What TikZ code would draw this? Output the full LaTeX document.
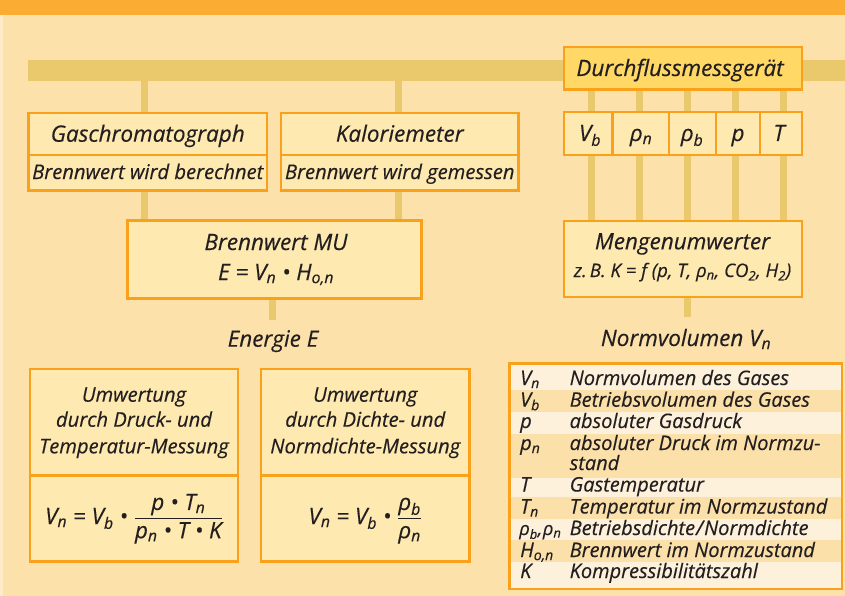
\documentclass[tikz,border=0pt]{standalone}
\usepackage{amsmath}
\usepackage{fontspec}
\setmainfont{Open Sans}[ItalicFeatures={FakeBold=0.35}]
\usetikzlibrary{backgrounds}
\definecolor{bg}{HTML}{FDE1AA}
\definecolor{topbar}{HTML}{FBAC33}
\definecolor{railc}{HTML}{E9C96B}
\definecolor{boxfill}{HTML}{FEE9B0}
\definecolor{dffill}{HTML}{FFD866}
\definecolor{borderc}{HTML}{F9A11B}
\definecolor{txt}{HTML}{231F20}
\definecolor{rowlight}{HTML}{FEF1DC}
\definecolor{rowdark}{HTML}{FCE0AA}
\definecolor{stripc}{HTML}{FEEBC8}
\newcommand\subx[1]{\textsubscript{#1}}
\newcommand\fsz[1]{\fontsize{#1}{#1}\selectfont\itshape}
\tikzset{
  box/.style={draw=borderc, line width=2.5pt, fill=boxfill, anchor=north west, inner sep=0pt, outer sep=0pt},
  conn/.style={draw=railc, line width=7pt},
  lbl/.style={text=txt, inner sep=0pt, anchor=base},
  lbll/.style={text=txt, inner sep=0pt, anchor=base west},
  big/.style={font=\fsz{22.5}},
  mid/.style={font=\fsz{20.2}},
  tab/.style={font=\fsz{20}},
}
\begin{document}
\begin{tikzpicture}[x=1pt,y=-1pt]
\useasboundingbox (0,0) rectangle (845,596);
\begin{scope}[on background layer]
\fill[bg] (0,0) rectangle (845,596);
\fill[stripc] (0,15) rectangle (3,596);
\fill[topbar] (0,0) rectangle (845,15);
\end{scope}
% rail
\node[fill=railc, anchor=north west, inner sep=0pt, minimum width=817pt, minimum height=21pt] (rail) at (28,60) {};
% upper boxes
\node[box, minimum width=238.5pt, minimum height=42pt] (gc) at (28.5,113) {};
\node[box, minimum width=238.5pt, minimum height=35.5pt] (gcs) at (28.5,155) {};
\node[box, minimum width=237.5pt, minimum height=42pt] (ka) at (281,113) {};
\node[box, minimum width=237.5pt, minimum height=35.5pt] (kas) at (281,155) {};
\node[box, minimum width=294pt, minimum height=78pt] (mu) at (127.5,220.5) {};
\node[box, fill=dffill, minimum width=238pt, minimum height=42.5pt] (df) at (564,47) {};
\node[box, minimum width=48.7pt, minimum height=43pt] (c1) at (564,112) {};
\node[box, minimum width=56.3pt, minimum height=43pt] (c2) at (612.7,112) {};
\node[box, minimum width=47pt, minimum height=43pt] (c3) at (669,112) {};
\node[box, minimum width=44pt, minimum height=43pt] (c4) at (716,112) {};
\node[box, minimum width=42pt, minimum height=43pt] (c5) at (760,112) {};
\node[box, minimum width=238pt, minimum height=76pt] (mw) at (564,221) {};
% lower boxes
\node[box, minimum width=208pt, minimum height=106.5pt] (ua) at (30,369.2) {};
\node[box, minimum width=208pt, minimum height=86pt] (uaf) at (30,475.7) {};
\node[box, minimum width=208.5pt, minimum height=106.5pt] (ub) at (261,369.2) {};
\node[box, minimum width=208.5pt, minimum height=86pt] (ubf) at (261,475.7) {};
% connectors
\coordinate (x1) at (144,0);
\coordinate (x2) at (398,0);
\coordinate (x3) at (272.5,0);
\coordinate (y5) at (591.7,0);
\coordinate (y6) at (639.3,0);
\coordinate (y7) at (687.7,0);
\coordinate (y8) at (735.5,0);
\coordinate (y9) at (783,0);
\coordinate (muend) at (272.5,320);
\coordinate (mwend) at (687.7,317);
\begin{scope}[on background layer]
\draw[conn] (rail.center -| x1) -- (mu.north -| x1);
\draw[conn] (rail.center -| x2) -- (mu.north -| x2);
\draw[conn] (mu.south -| x3) -- (muend);
\foreach \c in {y5,y6,y7,y8,y9}{\draw[conn] (df.center -| \c) -- (mw.north -| \c);}
\draw[conn] (mw.south -| y7) -- (mwend);
\end{scope}
% texts upper
\node[lbl, big] (tgc) at (147.75,141.7) {Gaschromatograph};
\node[lbl, mid] (tgcs) at (147.75,179) {Brennwert wird berechnet};
\node[lbl, big] (tka) at (399.75,141.7) {Kaloriemeter};
\node[lbl, mid] (tkas) at (399.75,179) {Brennwert wird gemessen};
\node[lbl, big] (tdf) at (680,76) {Durchflussmessgerät};
\node[lbl, big] (tc1) at (590,141) {V\subx{b}};
\node[lbl, big] (tc2) at (641,141) {ρ\subx{n}};
\node[lbl, big] (tc3) at (692,141) {ρ\subx{b}};
\node[lbl, big] (tc4) at (738,141) {p};
\node[lbl, big] (tc5) at (779,141) {T};
\node[lbl, big] (tmu1) at (276,250) {Brennwert MU};
\node[lbl, big] (tmu2) at (276,280) {E = V\subx{n} • H\subx{o,n}};
\node[lbl, big] (tmw1) at (682.5,249.3) {Mengenumwerter};
\node[lbl, font=\fsz{18.6}] (tmw2) at (682.5,277) {z.\,B. K = f (p, T, ρ\subx{n}, CO\subx{2}, H\subx{2})};
\node[lbl, big] (ten) at (273,346.7) {Energie E};
\node[lbl, big] (tnv) at (686,346) {Normvolumen V\subx{n}};
% lower box texts
\node[lbl, mid] (ua1) at (134,401.7) {Umwertung};
\node[lbl, mid] (ua2) at (134,426.7) {durch Druck- und};
\node[lbl, mid] (ua3) at (134,453.3) {Temperatur-Messung};
\node[lbl, mid] (ub1) at (365.25,401.7) {Umwertung};
\node[lbl, mid] (ub2) at (365.25,426.7) {durch Dichte- und};
\node[lbl, mid] (ub3) at (365.25,453.3) {Normdichte-Messung};
\node[lbl, big] (fa) at (134,524) {V\subx{n} = V\subx{b} • $\dfrac{\hbox{p • T\subx{n}}}{\hbox{p\subx{n} • T • K}}$};
\node[lbl, big] (fb) at (365.25,524) {V\subx{n} = V\subx{b} • $\dfrac{\hbox{ρ\subx{b}}}{\hbox{ρ\subx{n}}}$};
% table
\node[box, fill=rowlight, minimum width=332.5pt, minimum height=225.3pt] (tb) at (509.5,363.7) {};
\fill[rowdark] (511,390) rectangle (840.5,411.5);
\fill[rowdark] (511,434) rectangle (840.5,478);
\fill[rowdark] (511,497) rectangle (840.5,519);
\fill[rowdark] (511,540) rectangle (840.5,562);
\foreach \n/\y/\s/\d in {
  r1/385/{V\subx{n}}/{Normvolumen des Gases},
  r2/406.7/{V\subx{b}}/{Betriebsvolumen des Gases},
  r3/428/{p}/{absoluter Gasdruck},
  r4/450/{p\subx{n}}/{absoluter Druck im Normzu-},
  r6/491.5/{T}/{Gastemperatur},
  r7/513.5/{T\subx{n}}/{Temperatur im Normzustand},
  r9/557/{H\subx{o,n}}/{Brennwert im Normzustand},
  r10/578/{K}/{Kompressibilitätszahl}}{
  \node[lbll, tab] (\n s) at (520,\y) {\s};
  \node[lbll, tab] (\n d) at (569.5,\y) {\d};
}
\node[lbll, font=\fsz{18.5}] (r8s) at (519,535) {ρ\subx{b},\kern0.5pt ρ\subx{n}};
\node[lbll, tab] (r8d) at (569.5,535) {Betriebsdichte\kern1pt/\kern1pt Normdichte};
\node[lbll, tab] (r5d) at (569.5,470) {stand};
\end{tikzpicture}
\end{document}
